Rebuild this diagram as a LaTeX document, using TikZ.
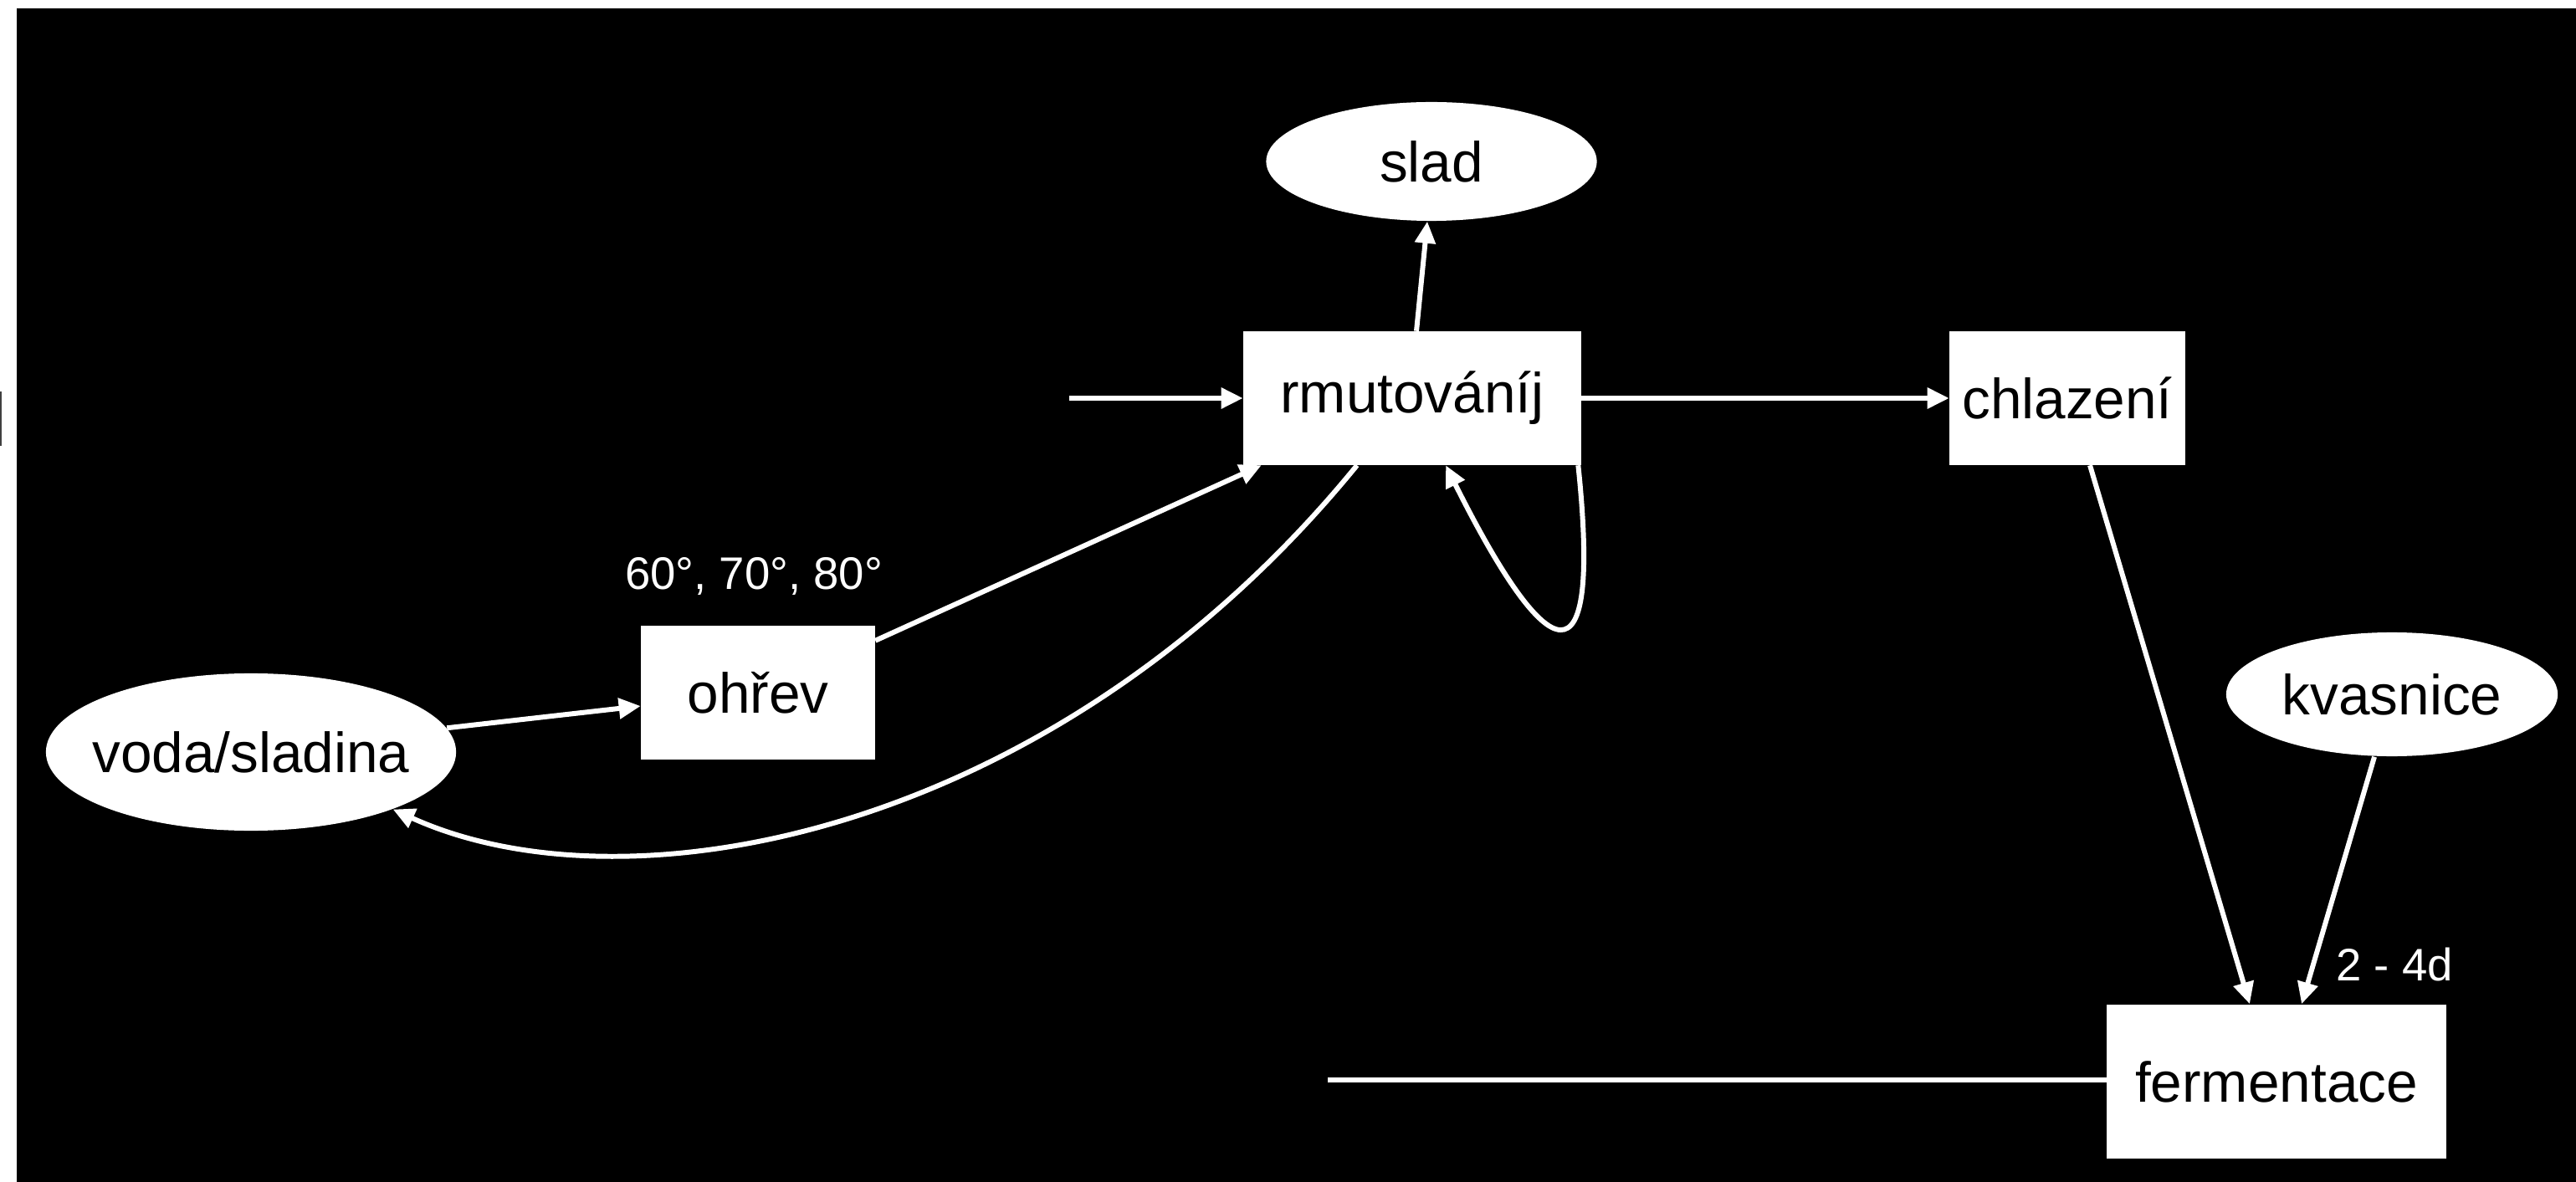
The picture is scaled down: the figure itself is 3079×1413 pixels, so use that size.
\documentclass[tikz,border=0pt]{standalone}
\usepackage{fontspec}
\setmainfont{Liberation Sans}
\usetikzlibrary{shapes.geometric,arrows.meta}
\begin{document}
\begin{tikzpicture}[x=0.01cm,y=-0.01cm,
  box/.style={rectangle,fill=white,inner sep=0pt,text=black,font=\fontsize{19.2}{23}\selectfont},
  oval/.style={ellipse,fill=white,inner sep=0pt,text=black,font=\fontsize{19.2}{23}\selectfont},
  conn/.style={draw=white,line width=1.7pt},
  arr/.style={conn,-{Triangle[length=0.26cm,width=0.24cm]}},
  lbl/.style={text=white,font=\fontsize{15.5}{18}\selectfont,inner sep=0pt}]
\fill[white] (0,0) rectangle (3079,1413);
\fill[black] (20,10) rectangle (3079,1413);
\useasboundingbox (0,0) rectangle (3079,1413);
\draw[gray!50!black,line width=0.5pt] (1,468) -- (1,533);

\node[box,minimum width=4.03cm,minimum height=1.59cm] (rmut) at (1688,476) {rmutováníj};
\node[oval,minimum width=3.95cm,minimum height=1.42cm] (slad) at (1711,193) {slad};
\node[box,minimum width=2.81cm,minimum height=1.59cm] (chl) at (2471,476) {chlazení};
\node[box,minimum width=2.79cm,minimum height=1.59cm] (ohrev) at (906,828) {ohřev};
\node[oval,minimum width=4.9cm,minimum height=1.88cm] (voda) at (300,899) {\makebox[0pt]{voda/sladina}};
\node[oval,minimum width=3.96cm,minimum height=1.48cm] (kvas) at (2859,830) {kvasnice};
\node[box,minimum width=4.05cm,minimum height=1.84cm] (ferm) at (2721,1293) {fermentace};

\node[lbl] (temp) at (901,689) {60°, 70°, 80°};
\node[lbl] (days) at (2862,1153) {2 - 4d};

\coordinate (inL) at (1278,476);
\coordinate (outL) at (1587,1291);

\draw[arr] (inL) -- (rmut.west);
\draw[arr] ([xshift=0.05cm]rmut.north) -- ([xshift=-0.05cm]slad.south);
\draw[arr] (rmut.east) -- (chl.west);
\draw[arr] (voda.7) -- ([yshift=-0.16cm]ohrev.west);
\draw[arr] ([yshift=-0.18cm]ohrev.north east) -- ([xshift=0.22cm]rmut.south west);
\draw[arr] ([xshift=-0.66cm]rmut.south) .. controls (1260,1000) and (750,1095) .. (voda.-22);
\draw[arr] ([xshift=-0.04cm]rmut.south east) .. controls (1915,830) and (1850,800) .. ([xshift=0.4cm]rmut.south);
\draw[arr] ([xshift=0.27cm]chl.south) -- ([xshift=-0.32cm]ferm.north);
\draw[arr] ([xshift=-0.21cm]kvas.south) -- ([xshift=0.30cm]ferm.north);
\draw[conn] (ferm.west |- outL) -- (outL);
\end{tikzpicture}
\end{document}
